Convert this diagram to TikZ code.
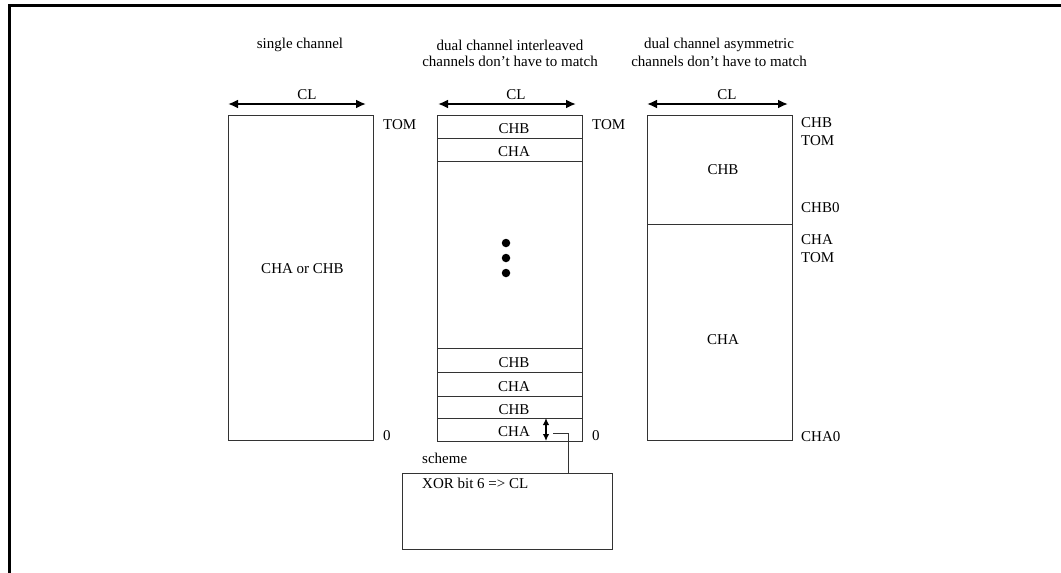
\documentclass[tikz,border=0pt]{standalone}
\usepackage{fontspec}
\setmainfont{Liberation Serif}
\usetikzlibrary{arrows.meta,positioning}
\begin{document}
\begin{tikzpicture}[x=1pt,y=-1pt,
  every node/.style={font=\fontsize{15}{17}\selectfont, inner sep=0pt, text=black},
  box/.style={draw=black!80, line width=1pt, minimum width=145pt},
  lbl/.style={anchor=west},
  clarrow/.style={line width=2.2pt, {Latex[length=10pt,width=9pt]}-{Latex[length=10pt,width=9pt]}},
  varrow/.style={line width=1.8pt, {Latex[length=7pt,width=6.5pt]}-{Latex[length=7pt,width=6.5pt]}},
  wire/.style={draw=black!80, line width=1pt},
  dot/.style={circle, fill=black, minimum size=8.5pt}
]
\useasboundingbox (0,0) rectangle (1061,573);
% outer frame
\draw[line width=2.4pt] (1062,5.5) -- (9.5,5.5) -- (9.5,574);

% ---------- single channel ----------
\node (t1) at (300,45) {single channel};
\node[box, minimum height=325pt] (sbox) at (300.5,277.5) {};
\node (stxt) at (302.5,269) {CHA or CHB};
\coordinate (s1) at (228,104);
\coordinate (s2) at (366,104);
\draw[clarrow] (s1) -- (s2);
\node (scl) at (307,95) {CL};
\node[lbl] (stom) at (383,125) {TOM};
\node[lbl] (szero) at (383,436) {0};

% ---------- dual interleaved ----------
\node (t2a) at (510,45) {dual channel interleaved};
\node (t2b) at (510,61) {channels don't have to match};
\node[box, minimum height=23pt] (m1) at (510,126.5) {};
\node[box, minimum height=23pt] (m2) at (510,149.5) {};
\node[box, minimum height=187pt] (m3) at (510,254.5) {};
\node[box, minimum height=24pt] (m4) at (510,360) {};
\node[box, minimum height=24pt] (m5) at (510,384) {};
\node[box, minimum height=22pt] (m6) at (510,407) {};
\node[box, minimum height=23pt] (m7) at (510,429.5) {};
\node at (514,129) {CHB};
\node at (514,152) {CHA};
\node at (514,363) {CHB};
\node at (514,387) {CHA};
\node at (514,410) {CHB};
\node at (514,432) {CHA};
\node[dot] (d1) at (506,243) {};
\node[dot] (d2) at (506,258) {};
\node[dot] (d3) at (506,273) {};
\coordinate (ma) at (438,104);
\coordinate (mb) at (576,104);
\draw[clarrow] (ma) -- (mb);
\node (mcl) at (516,95) {CL};
\node[lbl] (mtom) at (592,125) {TOM};
\node[lbl] (mzero) at (592,436) {0};

% interleave granularity arrow and link to scheme
\coordinate (va1) at (546,418);
\coordinate (va2) at (546,441);
\draw[varrow] (va1) -- (va2);
\coordinate (tap) at (553,433);
\coordinate (tapend) at (568,473);
\node[draw=black!80, line width=1pt, minimum width=210pt, minimum height=76pt] (scheme) at (507,511) {};
\node[anchor=west] (schlbl) at (422,458) {scheme};
\node[anchor=west] (schtxt) at (422,483) {XOR bit 6 => CL};
\draw[wire] (tap) -| (tapend);

% ---------- dual asymmetric ----------
\node (t3a) at (719,45) {dual channel asymmetric};
\node (t3b) at (719,61) {channels don't have to match};
\node[box, minimum height=109pt] (rb) at (719.5,169.5) {};
\node[box, minimum height=216pt] (ra) at (719.5,332) {};
\node at (723,170) {CHB};
\node at (723,340) {CHA};
\coordinate (r1) at (647,104);
\coordinate (r2) at (788,104);
\draw[clarrow] (r1) -- (r2);
\node (rcl) at (727,95) {CL};
\node[lbl] (rl1) at (801,123) {CHB};
\node[lbl] (rl2) at (801,141) {TOM};
\node[lbl] (rl3) at (801,208) {CHB0};
\node[lbl] (rl4) at (801,240) {CHA};
\node[lbl] (rl5) at (801,258) {TOM};
\node[lbl] (rl6) at (801,437) {CHA0};
\end{tikzpicture}
\end{document}
